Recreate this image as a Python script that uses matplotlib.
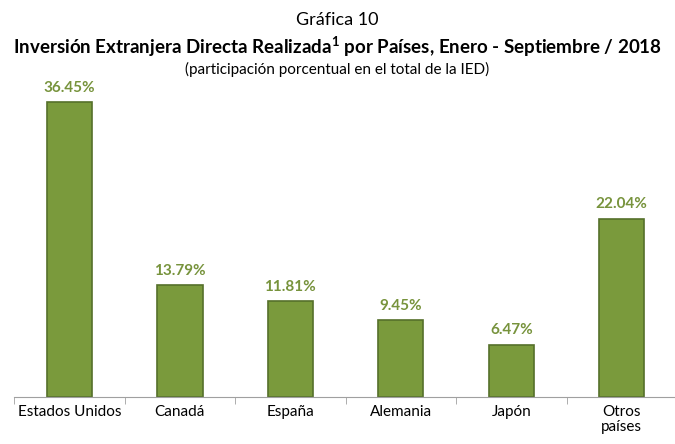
import matplotlib
matplotlib.use('Agg')
import matplotlib.pyplot as plt

# datos
paises = ['Estados Unidos', 'Canadá', 'España', 'Alemania', 'Japón', 'Otros\npaíses']
participacion = [36.45, 13.79, 11.81, 9.45, 6.47, 22.04]
etiquetas = ['36.45%', '13.79%', '11.81%', '9.45%', '6.47%', '22.04%']

plt.rcParams['font.family'] = ['Lato', 'DejaVu Sans']
plt.rcParams['mathtext.fontset'] = 'custom'
plt.rcParams['mathtext.rm'] = 'Lato'
plt.rcParams['mathtext.bf'] = 'Lato:bold'

fig = plt.figure(figsize=(6.75, 4.44), dpi=100)
ax = fig.add_axes([0.021, 0.106, 0.982, 0.729])

x = list(range(len(paises)))
ax.bar(x, participacion, width=0.41, color='#7a9a3c', edgecolor='#55702a', linewidth=1.2)

for i, v in enumerate(participacion):
    ax.text(i, v + 0.9, etiquetas[i], ha='center', va='bottom', fontsize=11,
            fontweight='bold', color='#77933C')

ax.set_xlim(-0.5, len(paises) - 0.5)
ax.set_ylim(0, 40)
ax.set_yticks([])
ax.set_xticks(x)
ax.set_xticklabels(paises, fontsize=11, va='top', linespacing=1.1)
ax.set_xticks([i - 0.5 for i in range(len(paises) + 1)], minor=True)
ax.tick_params(axis='x', which='major', length=0, pad=6)
ax.tick_params(axis='x', which='minor', length=5, color='#a0a0a0')
for s in ['top', 'right', 'left']:
    ax.spines[s].set_visible(False)
ax.spines['bottom'].set_color('#a0a0a0')

fig.text(0.5, 0.955, 'Gráfica 10', ha='center', va='center', fontsize=13)
fig.text(0.5, 0.895, 'Inversión Extranjera Directa Realizada$^{\\mathbf{1}}$ por Países, Enero - Septiembre / 2018',
         ha='center', va='center', fontsize=13.5, fontweight='bold')
fig.text(0.5, 0.843, '(participación porcentual en el total de la IED)', ha='center', va='center', fontsize=11)

plt.savefig('out.png', dpi=100)
